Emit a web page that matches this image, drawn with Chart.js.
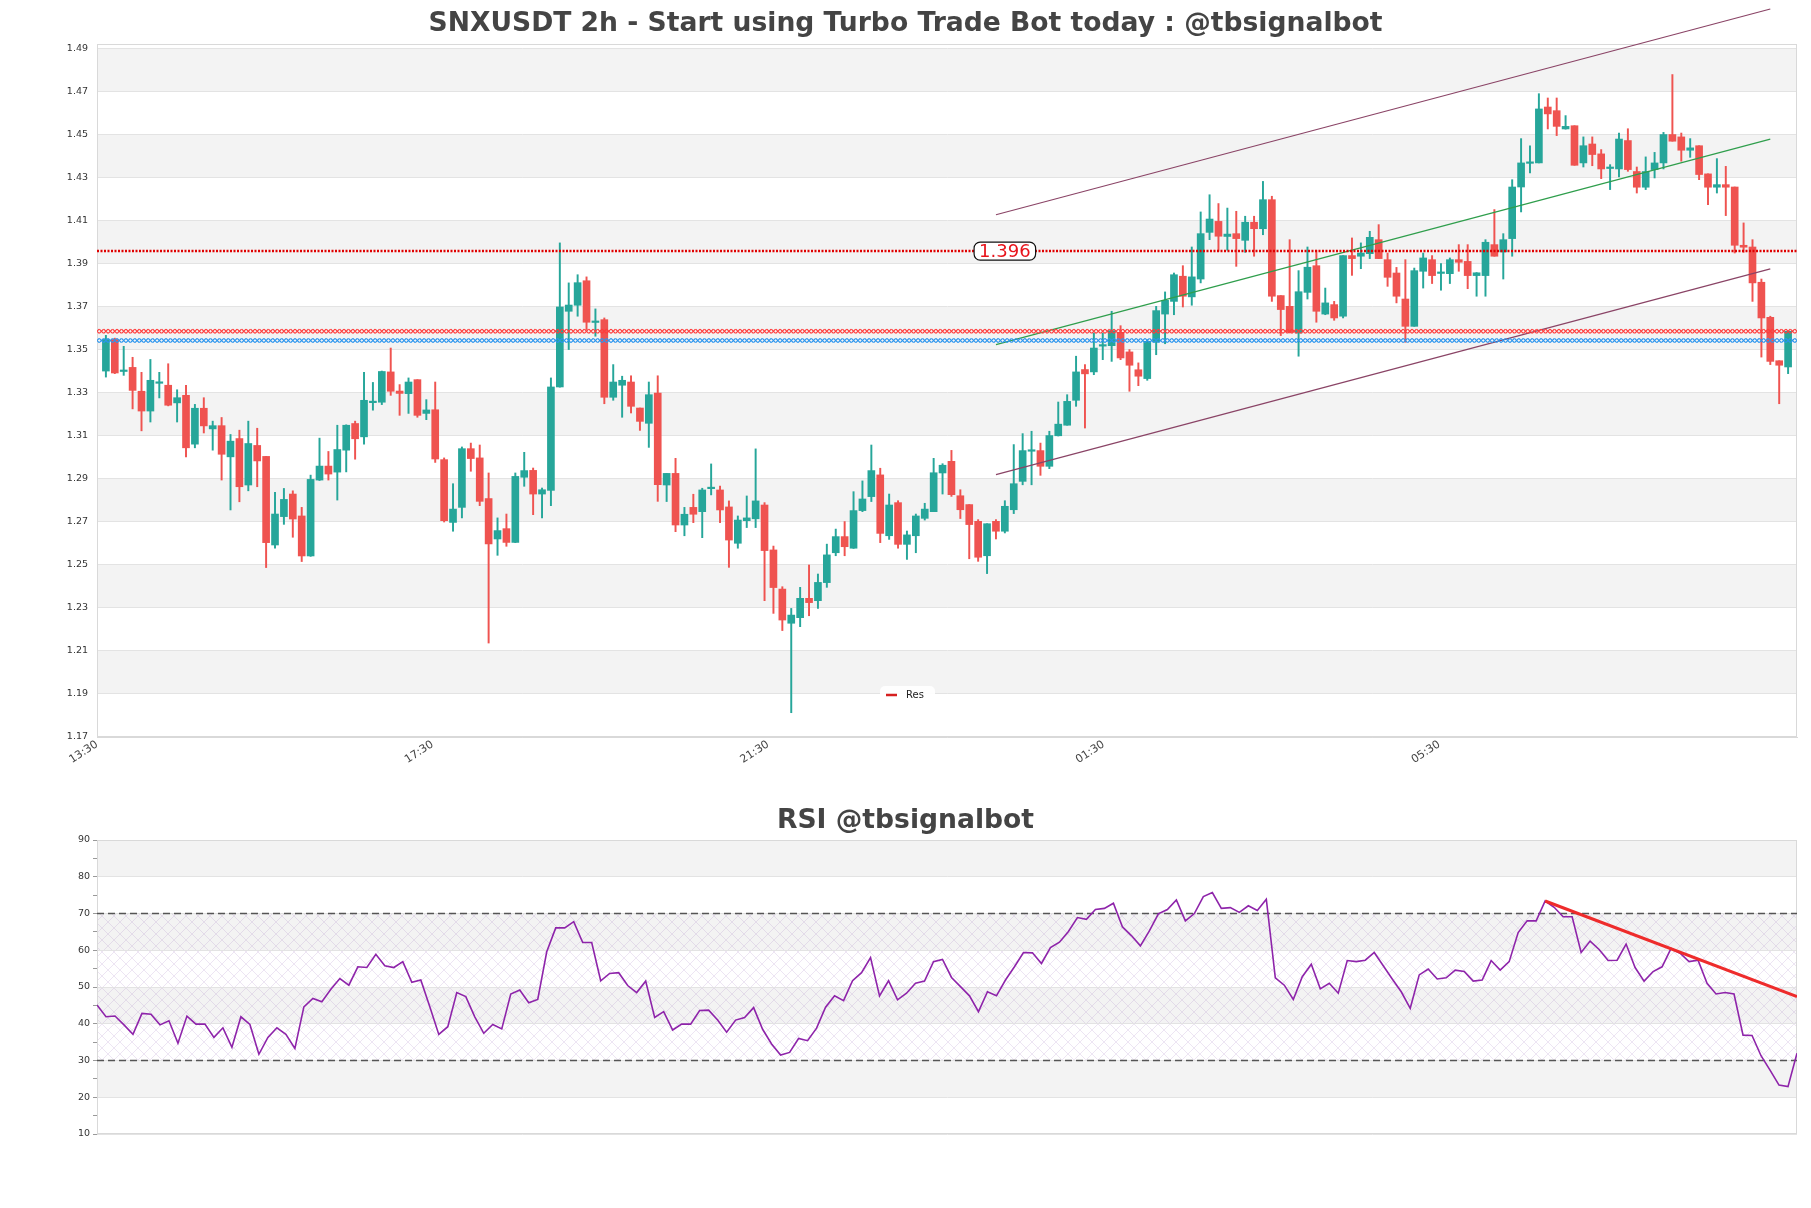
<!DOCTYPE html>
<html>
<head>
<meta charset="utf-8">
<script src="https://cdn.jsdelivr.net/npm/chart.js@4.4.0/dist/chart.umd.min.js"></script>
<style>
  html, body { margin: 0; padding: 0; background: #fff; }
  #wrap { position: relative; width: 1811px; height: 1208px; }
  canvas { position: absolute; left: 0; }
</style>
</head>
<body>
<div id="wrap">
  <canvas id="price" width="1811" height="790" style="top:0;width:1811px;height:790px"></canvas>
  <canvas id="rsi" width="1811" height="418" style="top:790px;width:1811px;height:418px"></canvas>
</div>
<script>
// candles
const opens = [
  1.3402,1.3549,1.3400,1.3419,1.3308,1.3216,1.3345,1.3336,1.3254,1.3289,
  1.3062,1.3229,1.3133,1.3148,1.3003,1.3088,1.2872,1.3056,1.3005,1.2593,
  1.2725,1.2830,1.2728,1.2542,1.2895,1.2960,1.2932,1.3034,1.3158,1.3096,
  1.3255,1.3257,1.3398,1.3309,1.3297,1.3362,1.3205,1.3222,1.2990,1.2698,
  1.2768,1.3041,1.2998,1.2809,1.2621,1.2669,1.2605,1.2908,1.2940,1.2830,
  1.2847,1.3328,1.3680,1.3708,1.3822,1.3628,1.3641,1.3280,1.3336,1.3351,
  1.3230,1.3159,1.3300,1.2872,1.2926,1.2686,1.2768,1.2748,1.2855,1.2849,
  1.2770,1.2601,1.2706,1.2715,1.2779,1.2570,1.2388,1.2229,1.2255,1.2345,
  1.2334,1.2418,1.2557,1.2632,1.2578,1.2753,1.2818,1.2919,1.2636,1.2790,
  1.2596,1.2636,1.2717,1.2748,1.2928,1.2982,1.2822,1.2781,1.2703,1.2543,
  1.2703,1.2657,1.2757,1.2889,1.3029,1.3032,1.2959,1.3101,1.3150,1.3266,
  1.3409,1.3398,1.3518,1.3520,1.3582,1.3491,1.3408,1.3367,1.3537,1.3667,
  1.3726,1.3843,1.3747,1.3830,1.4047,1.4098,1.4028,1.4041,1.4010,1.4094,
  1.4064,1.4199,1.3753,1.3703,1.3579,1.3768,1.3892,1.3667,1.3711,1.3657,
  1.3939,1.3936,1.3948,1.4013,1.3920,1.3858,1.3737,1.3610,1.3866,1.3920,
  1.3856,1.3855,1.3920,1.3912,1.3846,1.3846,1.3990,1.3956,1.4018,1.4258,
  1.4368,1.4370,1.4630,1.4613,1.4528,1.4543,1.4370,1.4458,1.4412,1.4344,
  1.4342,1.4474,1.4330,1.4257,1.4339,1.4370,1.4502,1.4491,1.4429,1.4450,
  1.4319,1.4257,1.4269,1.4258,1.3987,1.3979,1.3815,1.3652,1.3450,1.3421
];
const highs = [
  1.3568,1.3555,1.3517,1.3466,1.3396,1.3456,1.3396,1.3436,1.3315,1.3336,
  1.3247,1.3278,1.3169,1.3186,1.3107,1.3127,1.3169,1.3136,1.3005,1.2838,
  1.2856,1.2845,1.2768,1.2918,1.3090,1.3028,1.3150,1.3152,1.3169,1.3396,
  1.3349,1.3402,1.3509,1.3339,1.3370,1.3362,1.3269,1.3351,1.2998,1.2878,
  1.3049,1.3067,1.3058,1.2928,1.2719,1.2737,1.2928,1.3024,1.2951,1.2858,
  1.3370,1.3998,1.3812,1.3850,1.3840,1.3691,1.3649,1.3432,1.3378,1.3380,
  1.3230,1.3351,1.3380,1.2926,1.2996,1.2768,1.2829,1.2857,1.2970,1.2867,
  1.2798,1.2728,1.2821,1.3040,1.2790,1.2588,1.2399,1.2298,1.2396,1.2500,
  1.2458,1.2597,1.2667,1.2702,1.2841,1.2891,1.3058,1.2950,1.2830,1.2799,
  1.2658,1.2737,1.2787,1.2996,1.2971,1.3033,1.2850,1.2781,1.2711,1.2692,
  1.2711,1.2799,1.3060,1.3111,1.3122,1.3067,1.3122,1.3258,1.3292,1.3471,
  1.3432,1.3579,1.3579,1.3680,1.3613,1.3502,1.3440,1.3548,1.3703,1.3770,
  1.3858,1.3892,1.3979,1.4142,1.4222,1.4181,1.4160,1.4145,1.4122,1.4122,
  1.4284,1.4215,1.3753,1.4013,1.3869,1.3979,1.3964,1.3788,1.3726,1.3939,
  1.4021,1.3998,1.4052,1.4083,1.3951,1.3884,1.3920,1.3881,1.3951,1.3939,
  1.3902,1.3928,1.3990,1.3990,1.3860,1.4013,1.4153,1.4041,1.4292,1.4483,
  1.4450,1.4692,1.4672,1.4672,1.4590,1.4543,1.4491,1.4491,1.4432,1.4362,
  1.4509,1.4529,1.4351,1.4398,1.4419,1.4512,1.4781,1.4509,1.4483,1.4450,
  1.4319,1.4390,1.4354,1.4258,1.4091,1.4013,1.3830,1.3657,1.3450,1.3587
];
const lows = [
  1.3374,1.3390,1.3382,1.3226,1.3124,1.3165,1.3277,1.3240,1.3165,1.3003,
  1.3045,1.3114,1.3034,1.2895,1.2756,1.2794,1.2845,1.2864,1.2488,1.2578,
  1.2689,1.2629,1.2516,1.2540,1.2893,1.2895,1.2802,1.2933,1.2992,1.3062,
  1.3220,1.3246,1.3289,1.3196,1.3205,1.3187,1.3176,1.2977,1.2700,1.2657,
  1.2719,1.2936,1.2776,1.2137,1.2545,1.2587,1.2604,1.2866,1.2734,1.2719,
  1.2776,1.3327,1.3502,1.3657,1.3595,1.3564,1.3250,1.3266,1.3187,1.3207,
  1.3126,1.3047,1.2796,1.2795,1.2655,1.2636,1.2697,1.2627,1.2826,1.2697,
  1.2489,1.2578,1.2674,1.2674,1.2334,1.2275,1.2195,1.1813,1.2213,1.2264,
  1.2298,1.2396,1.2543,1.2543,1.2577,1.2748,1.2795,1.2604,1.2619,1.2578,
  1.2526,1.2557,1.2709,1.2748,1.2830,1.2819,1.2716,1.2529,1.2517,1.2460,
  1.2621,1.2649,1.2739,1.2873,1.2873,1.2917,1.2948,1.3100,1.3150,1.3238,
  1.3137,1.3385,1.3455,1.3447,1.3455,1.3308,1.3334,1.3359,1.3478,1.3529,
  1.3664,1.3700,1.3708,1.3812,1.4013,1.3959,1.3964,1.3889,1.3954,1.3936,
  1.4036,1.3726,1.3567,1.3579,1.3471,1.3737,1.3629,1.3664,1.3638,1.3649,
  1.3847,1.3878,1.3925,1.3925,1.3796,1.3719,1.3536,1.3610,1.3788,1.3809,
  1.3778,1.3809,1.3866,1.3785,1.3750,1.3750,1.3936,1.3830,1.3936,1.4142,
  1.4323,1.4370,1.4528,1.4497,1.4527,1.4359,1.4351,1.4357,1.4297,1.4246,
  1.4305,1.4331,1.4230,1.4246,1.4300,1.4342,1.4471,1.4378,1.4396,1.4292,
  1.4176,1.4230,1.4125,1.3951,1.3954,1.3726,1.3467,1.3432,1.3250,1.3390
];
const closes = [
  1.3549,1.3393,1.3403,1.3312,1.3216,1.3359,1.3349,1.3243,1.3278,1.3045,
  1.3229,1.3147,1.3148,1.3015,1.3076,1.2864,1.3065,1.2984,1.2604,1.2737,
  1.2805,1.2714,1.2542,1.2898,1.2960,1.2923,1.3037,1.3150,1.3087,1.3266,
  1.3262,1.3400,1.3308,1.3298,1.3351,1.3196,1.3221,1.2993,1.2706,1.2760,
  1.3041,1.2995,1.2796,1.2598,1.2660,1.2605,1.2912,1.2939,1.2830,1.2850,
  1.3328,1.3700,1.3709,1.3813,1.3629,1.3632,1.3280,1.3351,1.3359,1.3238,
  1.3168,1.3292,1.2874,1.2926,1.2686,1.2736,1.2736,1.2849,1.2858,1.2756,
  1.2616,1.2709,1.2719,1.2798,1.2567,1.2395,1.2244,1.2267,1.2345,1.2325,
  1.2419,1.2547,1.2632,1.2585,1.2753,1.2807,1.2939,1.2647,1.2779,1.2596,
  1.2640,1.2728,1.2760,1.2929,1.2964,1.2827,1.2757,1.2688,1.2536,1.2692,
  1.2657,1.2773,1.2878,1.3032,1.3032,1.2959,1.3102,1.3155,1.3261,1.3398,
  1.3389,1.3509,1.3522,1.3590,1.3463,1.3429,1.3378,1.3540,1.3683,1.3731,
  1.3850,1.3750,1.3840,1.4041,1.4109,1.4029,1.4039,1.4018,1.4094,1.4064,
  1.4199,1.3750,1.3688,1.3582,1.3771,1.3885,1.3680,1.3719,1.3649,1.3939,
  1.3925,1.3951,1.4024,1.3925,1.3838,1.3750,1.3610,1.3869,1.3928,1.3846,
  1.3859,1.3920,1.3908,1.3846,1.3859,1.4001,1.3936,1.4013,1.4258,1.4370,
  1.4372,1.4621,1.4598,1.4540,1.4540,1.4359,1.4450,1.4409,1.4342,1.4346,
  1.4481,1.4339,1.4257,1.4330,1.4370,1.4502,1.4471,1.4429,1.4440,1.4316,
  1.4257,1.4269,1.4257,1.3987,1.3978,1.3812,1.3649,1.3447,1.3429,1.3587
];
const rsiValues = [
  45.1,41.9,42.1,39.7,37.1,42.8,42.6,39.7,40.8,34.7,
  42.1,39.9,39.9,36.3,38.9,33.6,41.9,39.8,31.7,36.3,
  38.9,37.1,33.3,44.6,46.9,46.0,49.4,52.3,50.5,55.5,
  55.3,58.9,55.8,55.3,56.9,51.3,51.9,44.6,37.1,39.2,
  48.5,47.4,41.9,37.4,39.8,38.6,48.1,49.2,45.7,46.6,
  59.6,66.1,66.1,67.8,62.1,62.1,51.7,53.7,53.9,50.4,
  48.5,51.6,41.7,43.3,38.3,39.9,39.9,43.6,43.7,41.0,
  37.7,41.0,41.7,44.4,38.5,34.5,31.5,32.2,36.0,35.4,
  38.8,44.5,47.6,46.3,51.7,53.9,58.0,47.6,51.7,46.5,
  48.3,51.0,51.6,56.9,57.5,52.6,50.1,47.6,43.3,48.7,
  47.6,51.9,55.5,59.4,59.3,56.4,60.7,62.2,65.1,68.9,
  68.4,71.1,71.4,72.8,66.4,64.0,61.2,65.3,69.9,71.1,
  73.7,68.0,70.0,74.6,75.7,71.4,71.6,70.3,72.1,70.8,
  73.9,52.5,50.5,46.6,52.8,56.2,49.5,51.0,48.3,57.2,
  56.9,57.3,59.4,55.8,52.2,48.7,44.2,53.3,54.9,52.2,
  52.5,54.6,54.2,51.6,51.9,57.2,54.6,56.9,64.8,68.0,
  68.0,73.4,71.7,69.1,69.1,59.4,62.5,60.2,57.2,57.3,
  61.7,55.3,51.6,54.2,55.5,60.5,59.2,56.9,57.3,51.0,
  48.1,48.5,48.1,36.9,36.8,31.3,27.4,23.3,22.9,32.0
];

const priceTicks = [1.17,1.19,1.21,1.23,1.25,1.27,1.29,1.31,1.33,1.35,1.37,1.39,1.41,1.43,1.45,1.47,1.49];
const rsiTicks = [10,20,30,40,50,60,70,80,90];
const timeLabels = ['13:30','17:30','21:30','01:30','05:30'];
const timeLabelPos = [-1, 36.7, 74.4, 112.1, 149.8];

const resLevel = 1.396;
const resTagAt = 101;
const redLevel = 1.3587;
const blueLevel = 1.3544;
const channelX = [100, 187];
const channelUpper = [1.4129, 1.5086];
const channelMid = [1.3525, 1.4481];
const channelLower = [1.2920, 1.3877];
const rsiBands = [70, 30];
const rsiTrendX = [161, 189];
const rsiTrendY = [73.4, 47.4];

const GREEN = '#26a69a', RED = '#ef5350';
Chart.defaults.font.family = 'DejaVu Sans';

const idx = closes.map((c, i) => i);
const candleColors = idx.map(i => closes[i] >= opens[i] ? GREEN : RED);

function levelLine(v, step) {
  const pts = [];
  for (let x = -1; x <= 190; x += step) pts.push({x: x, y: v});
  return pts;
}
function segment(xs, ys) {
  return xs.map((x, i) => ({x: x, y: ys[i]}));
}

// empty axis on the right, keeps the plot 14px off the edge while titles stay centred on the canvas
const rightGap = {
  position: 'right', display: true,
  grid: {display: false, drawTicks: false}, border: {display: false},
  ticks: {display: false},
  afterFit: s => { s.width = 14; }
};

function bandsPlugin(ticks, hatch) {
  return {
    id: 'bands',
    beforeDraw(chart) {
      const {ctx, chartArea: a} = chart;
      const y = chart.scales.y;
      ctx.save();
      ctx.fillStyle = '#f3f3f3';
      for (let k = 1; k + 1 < ticks.length; k += 2) {
        const t = y.getPixelForValue(ticks[k + 1]), b = y.getPixelForValue(ticks[k]);
        ctx.fillRect(a.left, t, a.width, b - t);
      }
      if (hatch) {
        const tile = document.createElement('canvas');
        tile.width = 12; tile.height = 12;
        const g = tile.getContext('2d');
        g.strokeStyle = 'rgba(160,120,190,0.28)';
        g.lineWidth = 0.7;
        g.beginPath();
        g.moveTo(0, 0); g.lineTo(12, 12);
        g.moveTo(12, 0); g.lineTo(0, 12);
        g.stroke();
        ctx.fillStyle = ctx.createPattern(tile, 'repeat');
        const t = y.getPixelForValue(hatch[1]), b = y.getPixelForValue(hatch[0]);
        ctx.fillRect(a.left, t, a.width, b - t);
      }
      ctx.restore();
    },
    beforeDatasetsDraw(chart) {
      const {ctx, chartArea: a} = chart;
      ctx.save();
      ctx.strokeStyle = '#d9d9d9';
      ctx.lineWidth = 1;
      ctx.strokeRect(a.left + 0.5, a.top + 0.5, a.width - 1, a.height - 1);
      ctx.restore();
    }
  };
}

const tagPlugin = {
  id: 'tags',
  afterDatasetsDraw(chart) {
    const {ctx, chartArea: a} = chart;
    const px = chart.scales.x.getPixelForValue(resTagAt);
    const py = chart.scales.y.getPixelForValue(resLevel);
    ctx.save();
    ctx.font = '18px DejaVu Sans';
    const txt = resLevel.toFixed(3);
    const w = ctx.measureText(txt).width;
    ctx.beginPath();
    ctx.roundRect(px - w / 2 - 5, py - 9, w + 10, 18, 6);
    ctx.fillStyle = '#fff';
    ctx.fill();
    ctx.strokeStyle = '#111';
    ctx.lineWidth = 1.2;
    ctx.stroke();
    ctx.fillStyle = '#e8141b';
    ctx.textAlign = 'center';
    ctx.textBaseline = 'middle';
    ctx.fillText(txt, px, py + 1);

    // legend box
    const lx = a.left + 783, ly = a.bottom - 51;
    ctx.beginPath();
    ctx.roundRect(lx, ly, 55, 17, 5);
    ctx.fillStyle = 'rgba(255,255,255,0.9)';
    ctx.fill();
    ctx.strokeStyle = '#d62020';
    ctx.lineWidth = 2.5;
    ctx.beginPath();
    ctx.moveTo(lx + 6, ly + 9);
    ctx.lineTo(lx + 17, ly + 9);
    ctx.stroke();
    ctx.fillStyle = '#222';
    ctx.font = '10px DejaVu Sans';
    ctx.textAlign = 'left';
    ctx.textBaseline = 'middle';
    ctx.fillText(chart.data.datasets[0].label, lx + 26, ly + 9);
    ctx.restore();
  }
};

new Chart(document.getElementById('price'), {
  type: 'bar',
  data: {
    datasets: [
      {
        type: 'line', label: 'Res', data: levelLine(resLevel, 191),
        borderColor: '#e00000', borderWidth: 2.5, borderDash: [2, 1.5],
        pointRadius: 0, order: 0
      },
      {
        type: 'line', label: 'r', data: levelLine(redLevel, 0.5),
        showLine: false, pointStyle: 'crossRot',
        pointRadius: 3, pointBorderWidth: 1.2, pointBorderColor: '#ff3b3b',
        pointBackgroundColor: 'rgba(0,0,0,0)', order: 1
      },
      {
        type: 'line', label: 'b', data: levelLine(blueLevel, 0.5),
        showLine: false, pointStyle: 'crossRot',
        pointRadius: 3, pointBorderWidth: 1.2, pointBorderColor: '#2b95ee',
        pointBackgroundColor: 'rgba(0,0,0,0)', order: 1
      },
      {
        type: 'line', label: 'up', data: segment(channelX, channelUpper),
        borderColor: '#8a4466', borderWidth: 1.2, pointRadius: 0, clip: false, order: 2
      },
      {
        type: 'line', label: 'mid', data: segment(channelX, channelMid),
        borderColor: '#2f9e4c', borderWidth: 1.2, pointRadius: 0, order: 2
      },
      {
        type: 'line', label: 'low', data: segment(channelX, channelLower),
        borderColor: '#8a4466', borderWidth: 1.2, pointRadius: 0, order: 2
      },
      {
        label: 'body', data: idx.map(i => ({x: i, y: [opens[i], closes[i]]})),
        backgroundColor: candleColors, barThickness: 7, grouped: false,
        minBarLength: 1.5, order: 5
      },
      {
        label: 'wick', data: idx.map(i => ({x: i, y: [lows[i], highs[i]]})),
        backgroundColor: candleColors, barThickness: 1.3, grouped: false, order: 6
      }
    ]
  },
  options: {
    responsive: false,
    animation: false,
    layout: {padding: 0},
    plugins: {
      legend: {display: false},
      tooltip: {enabled: false},
      title: {
        display: true,
        text: 'SNXUSDT 2h - Start using Turbo Trade Bot today : @tbsignalbot',
        color: '#444',
        font: {size: 26.6, weight: 'bold'},
        padding: {top: 8.5, bottom: 3.6}
      }
    },
    scales: {
      x: {
        type: 'linear', min: -1, max: 190, offset: false,
        grid: {display: false, drawTicks: false},
        border: {display: true, color: '#d9d9d9'},
        afterBuildTicks: s => { s.ticks = timeLabelPos.map(v => ({value: v})); },
        afterFit: s => { s.height = 53; },
        ticks: {
          autoSkip: false, minRotation: 33, maxRotation: 33, color: '#444',
          font: {size: 11}, padding: 1,
          callback: (v, i) => timeLabels[i]
        }
      },
      y: {
        min: 1.17, max: 1.4923,
        afterBuildTicks: s => { s.ticks = priceTicks.map(v => ({value: v})); },
        afterFit: s => { s.width = 97; },
        grid: {color: '#e3e3e3', drawTicks: false},
        border: {display: true, color: '#d9d9d9'},
        ticks: {color: '#333', font: {size: 9.5}, padding: 9, callback: v => v.toFixed(2)}
      },
      gap: rightGap
    }
  },
  plugins: [bandsPlugin(priceTicks, null), tagPlugin]
});

new Chart(document.getElementById('rsi'), {
  type: 'line',
  data: {
    datasets: [
      {
        label: 'RSI', data: rsiValues.map((v, i) => ({x: i, y: v})),
        borderColor: '#8e24aa', borderWidth: 1.6, pointRadius: 0, order: 2
      },
      {
        label: 'hi', data: segment([0, 189], [rsiBands[0], rsiBands[0]]),
        borderColor: '#555', borderWidth: 1.3, borderDash: [7, 4], pointRadius: 0, order: 3
      },
      {
        label: 'lo', data: segment([0, 189], [rsiBands[1], rsiBands[1]]),
        borderColor: '#555', borderWidth: 1.3, borderDash: [7, 4], pointRadius: 0, order: 3
      },
      {
        label: 'trend', data: segment(rsiTrendX, rsiTrendY),
        borderColor: '#ee2b2b', borderWidth: 3, pointRadius: 0, order: 1
      }
    ]
  },
  options: {
    responsive: false,
    animation: false,
    layout: {padding: {left: 0, right: 0, top: 0, bottom: 74}},
    plugins: {
      legend: {display: false},
      tooltip: {enabled: false},
      title: {
        display: true,
        text: 'RSI @tbsignalbot',
        color: '#444',
        font: {size: 26.6, weight: 'bold'},
        padding: {top: 15.5, bottom: 2.6}
      }
    },
    scales: {
      x: {type: 'linear', min: 0, max: 189, display: false},
      y: {
        min: 10, max: 90,
        afterFit: s => { s.width = 97; },
        ticks: {
          stepSize: 5, color: '#333', font: {size: 9.5}, padding: 3,
          callback: v => (v % 10 === 0 ? v : '')
        },
        grid: {
          color: c => (c.tick && c.tick.value % 10 === 0 ? '#e3e3e3' : 'rgba(0,0,0,0)'),
          tickColor: '#999', tickLength: 4
        },
        border: {display: true, color: '#d9d9d9'}
      },
      gap: rightGap
    }
  },
  plugins: [bandsPlugin(rsiTicks, rsiBands.slice().reverse())]
});
</script>
</body>
</html>
